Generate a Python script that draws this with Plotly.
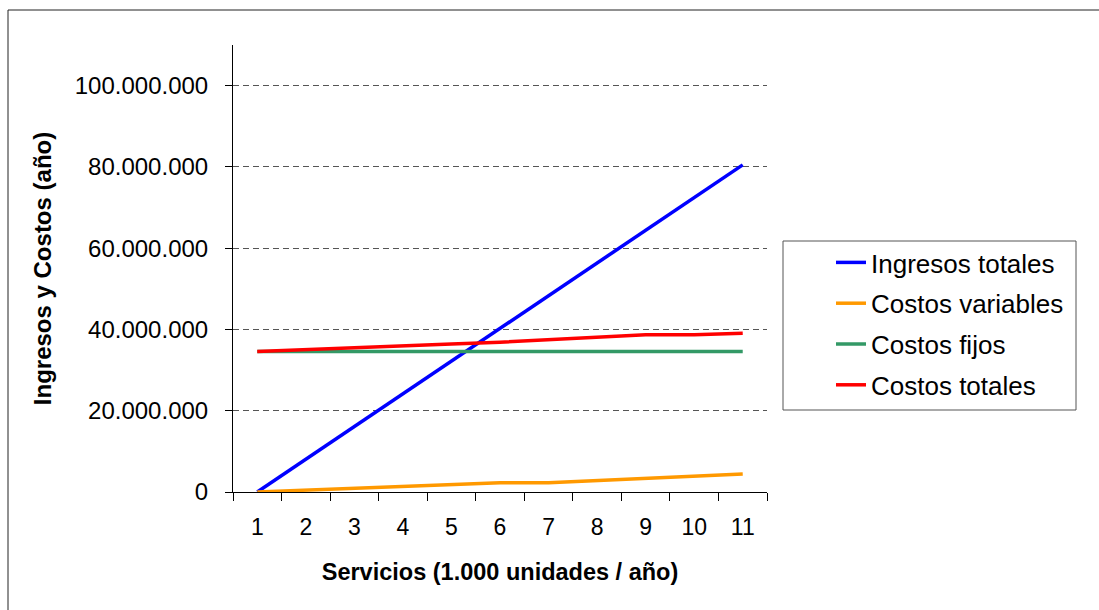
import plotly.graph_objects as go

# Servicios (1.000 unidades / año)
categorias = ["1", "2", "3", "4", "5", "6", "7", "8", "9", "10", "11"]

ingresos_totales = [0, 8050000, 16100000, 24150000, 32200000, 40250000,
                    48300000, 56350000, 64400000, 72450000, 80500000]
costos_variables = [0, 460000, 920000, 1380000, 1840000, 2300000,
                    2300000, 2840000, 3380000, 3900000, 4430000]
costos_fijos = [34600000, 34600000, 34600000, 34600000, 34600000, 34600000,
                34600000, 34600000, 34600000, 34600000, 34600000]
costos_totales = [34600000, 35100000, 35550000, 36000000, 36450000, 36850000,
                  37450000, 37950000, 38700000, 38700000, 39050000]

series = [
    ("Ingresos totales", ingresos_totales, "#0000FF"),
    ("Costos variables", costos_variables, "#FF9900"),
    ("Costos fijos", costos_fijos, "#339966"),
    ("Costos totales", costos_totales, "#FF0000"),
]

W, H = 1099, 610
L, R, T, B = 233, 332, 45, 118
PW, PH = W - L - R, H - T - B


def px_x(x):
    return (x - L) / PW


def px_y(y):
    return (H - B - y) / PH


FONT = "Liberation Sans, Arial, sans-serif"

fig = go.Figure()
for i, (nombre, valores, color) in enumerate(series):
    fig.add_trace(go.Scatter(
        x=categorias, y=valores, name=nombre, mode="lines",
        line=dict(color=color, width=3.5),
        legendgroup=f"g{i}",
    ))

fig.update_layout(
    width=W, height=H,
    margin=dict(l=L, r=R, t=T, b=B, autoexpand=False),
    paper_bgcolor="white", plot_bgcolor="white",
    separators=",.",
    font=dict(family=FONT, color="black", size=24),
    showlegend=True,
    legend=dict(
        x=px_x(831), y=px_y(239), xanchor="left", yanchor="top",
        font=dict(family=FONT, size=26, color="black"),
        bgcolor="rgba(0,0,0,0)", borderwidth=0,
        traceorder="grouped", tracegroupgap=4,
    ),
    xaxis=dict(
        type="category", range=[-0.5, 10.5],
        showgrid=False, zeroline=False,
        showline=True, linecolor="black", linewidth=1,
        ticks="outside", ticklen=8, tickcolor="black", tickwidth=1,
        tickson="boundaries", ticklabelstandoff=14,
        tickfont=dict(family=FONT, size=23),
        title=dict(text="<b>Servicios (1.000 unidades / año)</b>",
                   font=dict(family=FONT, size=23.5), standoff=24),
    ),
    yaxis=dict(
        range=[0, 110000000], tick0=0, dtick=20000000, tickformat=",d",
        showgrid=True, gridcolor="#555555", gridwidth=1, griddash="6px,4px",
        zeroline=False,
        showline=True, linecolor="black", linewidth=1,
        ticks="outside", ticklen=7, tickcolor="black", tickwidth=1,
        ticklabelstandoff=12,
        tickfont=dict(family=FONT, size=24),
        title=dict(text="<b>Ingresos y Costos (año)</b>",
                   font=dict(family=FONT, size=24), standoff=16),
    ),
    shapes=[
        # chart frame
        dict(type="rect", xref="paper", yref="paper",
             x0=px_x(8), x1=px_x(W + 10), y0=px_y(H + 10), y1=px_y(10),
             line=dict(color="#222222", width=1), fillcolor="rgba(0,0,0,0)",
             layer="below"),
        # legend frame
        dict(type="rect", xref="paper", yref="paper",
             x0=px_x(783), x1=px_x(1076), y0=px_y(410), y1=px_y(241),
             line=dict(color="#555555", width=1), fillcolor="white",
             layer="below"),
    ],
)

fig.write_html("out.html")
